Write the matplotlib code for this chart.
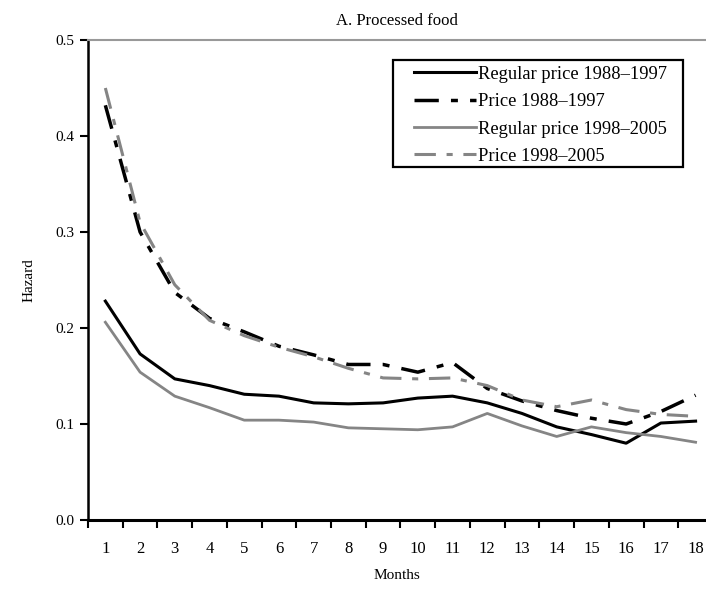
import matplotlib
matplotlib.use('Agg')
import matplotlib.pyplot as plt
from matplotlib.ticker import FixedLocator
from matplotlib.patches import Rectangle

plt.rcParams['font.family'] = ['Liberation Serif', 'DejaVu Serif']

months = list(range(1, 19))
regular_88_97 = [0.228, 0.173, 0.147, 0.140, 0.131, 0.129, 0.122, 0.121, 0.122, 0.127,
                 0.129, 0.122, 0.111, 0.097, 0.089, 0.080, 0.101, 0.103]
price_88_97 = [0.432, 0.300, 0.237, 0.210, 0.196, 0.181, 0.172, 0.162, 0.162, 0.154,
               0.164, 0.137, 0.124, 0.114, 0.106, 0.100, 0.113, 0.130]
regular_98_05 = [0.206, 0.154, 0.129, 0.117, 0.104, 0.104, 0.102, 0.096, 0.095, 0.094,
                 0.097, 0.111, 0.098, 0.087, 0.097, 0.091, 0.087, 0.081]
price_98_05 = [0.450, 0.310, 0.245, 0.208, 0.192, 0.180, 0.170, 0.158, 0.148, 0.147,
               0.148, 0.140, 0.125, 0.118, 0.125, 0.115, 0.110, 0.108]

labels = ['Regular price 1988\u20131997', 'Price 1988\u20131997',
          'Regular price 1998\u20132005', 'Price 1998\u20132005']

fig = plt.figure(figsize=(7.06, 5.89), dpi=100)
ax = fig.add_axes([88 / 706, 69 / 589, 1 - 88 / 706, 480 / 589])

gray = '#858585'
dashdot = (0, (7, 3.5, 2, 3.5))
ax.plot(months, regular_88_97, color='black', lw=2.2, label=labels[0])
ax.plot(months, price_88_97, color='black', lw=2.5, linestyle=dashdot, label=labels[1])
ax.plot(months, regular_98_05, color=gray, lw=2.0, label=labels[2])
ax.plot(months, price_98_05, color=gray, lw=2.2, linestyle=dashdot, label=labels[3])

ax.set_xlim(0.5, 18.3)
ax.set_ylim(0, 0.5)

# ticks at boundaries, labels centered between them
ax.xaxis.set_major_locator(FixedLocator([m + 0.5 for m in range(0, 18)]))
ax.xaxis.set_minor_locator(FixedLocator(months))
ax.set_xticklabels([])
ax.set_xticklabels([str(m) for m in months], minor=True)
ax.tick_params(axis='x', which='major', direction='out', length=6, width=1.5)
ax.tick_params(axis='x', which='minor', length=0, pad=15, labelsize=12)
ax.set_yticks([0.0, 0.1, 0.2, 0.3, 0.4, 0.5])
ax.set_yticklabels(['0.0', '0.1', '0.2', '0.3', '0.4', '0.5'])
ax.tick_params(axis='y', direction='out', length=6, width=1.5, labelsize=11, pad=4)

ax.spines['right'].set_visible(False)
ax.spines['left'].set_linewidth(1.8)
ax.spines['bottom'].set_linewidth(2.2)
ax.spines['top'].set_color('#999999')
ax.spines['top'].set_linewidth(1.5)

ax.set_title('A. Processed food', fontsize=12, pad=11)
ax.set_xlabel('Months', fontsize=11, labelpad=9)
ax.set_ylabel('Hazard', fontsize=11, labelpad=14)

# legend without its own frame, boxed by a rectangle
leg = ax.legend(loc='upper left', bbox_to_anchor=(0.527, 0.946),
                fontsize=13.3, frameon=False,
                handlelength=3.4, handletextpad=0.1, labelspacing=0.56,
                borderpad=0, borderaxespad=0)
ax.add_patch(Rectangle((0.4935, 0.7354), 0.4693, 0.2229, transform=ax.transAxes,
                       fill=False, edgecolor='black', lw=1.6, zorder=6, clip_on=False))

plt.savefig('out.png', dpi=100)
